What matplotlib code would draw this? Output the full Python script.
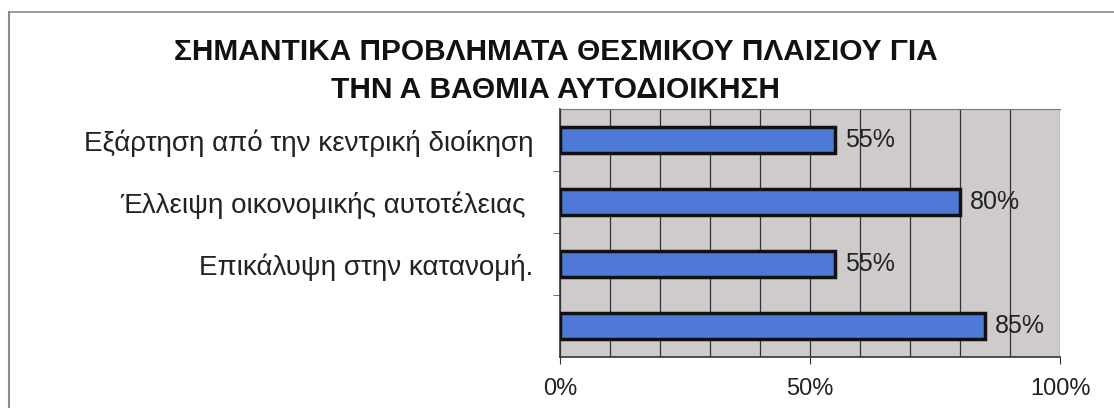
import matplotlib
matplotlib.use("Agg")
import matplotlib.pyplot as plt
from matplotlib.lines import Line2D

title = "ΣΗΜΑΝΤΙΚΑ ΠΡΟΒΛΗΜΑΤΑ ΘΕΣΜΙΚΟΥ ΠΛΑΙΣΙΟΥ ΓΙΑ\nΤΗΝ Α ΒΑΘΜΙΑ ΑΥΤΟΔΙΟΙΚΗΣΗ"
categories = [
    "Εξάρτηση από την κεντρική διοίκηση",
    "Έλλειψη οικονομικής αυτοτέλειας ",
    "Επικάλυψη στην κατανομή.",
    "",
]
values = [55, 80, 55, 85]
x_ticks = [0, 50, 100]
x_tick_labels = ["0%", "50%", "100%"]

plt.rcParams['font.family'] = ['Liberation Sans', 'DejaVu Sans']

fig = plt.figure(figsize=(11.14, 4.08), dpi=100)
fig.patch.set_facecolor('white')

# outer frame lines (top and left)
fig.add_artist(Line2D([9 / 1114, 1], [1 - 12 / 408] * 2, color='#8a8a8a', lw=1.2,
                      transform=fig.transFigure))
fig.add_artist(Line2D([9 / 1114] * 2, [0, 1 - 12 / 408], color='#8a8a8a', lw=1.5,
                      transform=fig.transFigure))

fig.text(0.499, 1 - 71 / 408, title, ha='center', va='center', fontsize=21.5,
         fontweight='bold', linespacing=1.45, color='#111111')

ax = fig.add_axes([560 / 1114, 1 - 357 / 408, 500 / 1114, 248 / 408])
ax.set_facecolor('#cfcbcb')

pos = list(range(len(categories)))
ax.barh(pos, values, height=0.42, color='#4f79d6', edgecolor='#111111',
        linewidth=2.5, zorder=3)
for p, v in zip(pos, values):
    ax.text(v + 2, p, f"{v}%", va='center', ha='left', fontsize=18,
            color='#222222', zorder=4)

ax.set_xlim(0, 100)
ax.set_ylim(len(categories) - 0.5, -0.5)
ax.set_xticks(x_ticks)
ax.set_xticklabels(x_tick_labels, fontsize=17, color='#222222')
ax.set_xticks(range(0, 101, 10), minor=True)
ax.grid(True, axis='x', which='both', color='#333333', lw=0.9, zorder=1)
ax.tick_params(axis='x', which='major', length=5, pad=10, color='#333333')
ax.tick_params(axis='x', which='minor', length=0)

ax.set_yticks(pos)
ax.set_yticklabels(categories, fontsize=20, color='#222222')
ax.set_yticks([p + 0.5 for p in pos[:-1]], minor=True)
ax.tick_params(axis='y', which='major', length=0, pad=19)
ax.tick_params(axis='y', which='minor', length=5, color='#555555')

for side in ['left', 'bottom']:
    ax.spines[side].set_color('#333333')
    ax.spines[side].set_linewidth(1.2)
ax.spines['top'].set_color('#777777')
ax.spines['top'].set_linewidth(0.8)
ax.spines['right'].set_visible(False)

fig.savefig("out.png", dpi=100)
